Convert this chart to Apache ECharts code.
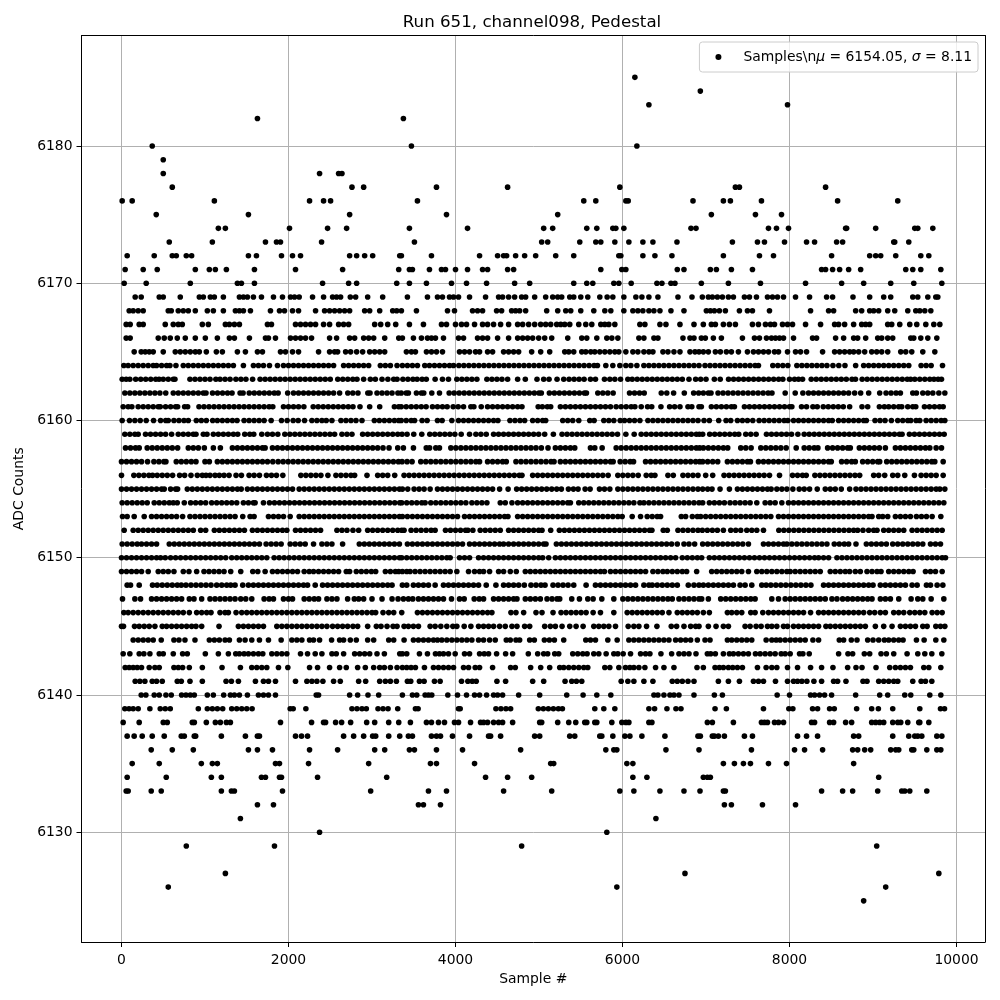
<!DOCTYPE html>
<html>
<head>
<meta charset="utf-8">
<title>Run 651, channel098, Pedestal</title>
<script src="https://cdn.jsdelivr.net/npm/echarts@6/dist/echarts.min.js"></script>
<style>
  html, body { margin: 0; background: #fff; }
  #chart { width: 1000px; height: 1000px; }
</style>
</head>
<body>
<div id="chart"></div>
<script>
/* sample numbers, one array per ADC level */
const level6185 = [6148];
const level6184 = [6932];
const level6183 = [6316, 7976];
const level6182 = [1628, 3376];
const level6180 = [368, 3472, 6172];
const level6179 = [500];
const level6178 = [500, 2372, 2600, 2640];
const level6177 = [608, 2760, 2900, 3772, 4624, 5968, 7352, 7400, 8432];
const level6176 = [8, 128, 1112, 2252, 2420, 2504, 3544, 5536, 5680, 6040, 6068, 6844, 7208, 7292, 7664, 8576, 9296];
const level6175 = [416, 1520, 2732, 3892, 5224, 7064, 7592, 7904];
const level6174 = [1160, 1244, 2012, 2468, 2696, 3448, 4144, 5056, 5164, 5572, 5692, 5884, 5920, 6016, 6820, 6880, 7748, 7844, 7988, 8672, 8684, 9032, 9500, 9536, 9716];
const level6173 = [572, 1088, 1724, 1856, 1904, 2396, 3508, 5032, 5104, 5488, 5680, 5740, 5908, 6076, 6244, 6364, 6652, 7316, 7616, 7700, 7940, 8204, 8300, 8564, 8636, 9248, 9260, 9428];
const level6172 = [68, 392, 608, 656, 776, 840, 1520, 1616, 1916, 2048, 2144, 2732, 2816, 2912, 3008, 3332, 3352, 3712, 4288, 4504, 4576, 4612, 4720, 4828, 4960, 5200, 5416, 5956, 5980, 6244, 6388, 6592, 7208, 7640, 7808, 8504, 8960, 9032, 9092, 9272, 9572, 9668];
const level6171 = [44, 260, 428, 884, 1052, 1124, 1256, 1592, 2084, 2648, 3320, 3448, 3484, 3688, 3832, 3880, 4000, 4144, 4324, 4384, 4624, 4696, 5740, 5992, 6040, 6656, 6736, 7052, 7124, 7304, 7556, 8384, 8432, 8516, 8600, 8708, 8852, 9392, 9476, 9572, 9812];
const level6170 = [32, 296, 824, 1388, 1436, 1592, 2408, 2720, 2816, 3296, 3448, 3652, 3952, 4132, 4372, 4708, 4888, 5416, 5572, 5644, 5896, 5956, 6104, 6412, 6472, 6580, 6628, 6944, 7268, 7652, 8192, 8624, 8888, 9212, 9488, 9824];
const level6169 = [164, 236, 452, 500, 704, 932, 980, 1064, 1112, 1220, 1412, 1460, 1508, 1580, 1676, 1820, 1928, 2024, 2072, 2128, 2288, 2420, 2528, 2576, 2624, 2740, 2804, 2948, 3128, 3424, 3664, 3784, 3844, 3928, 3976, 4036, 4168, 4360, 4516, 4564, 4636, 4708, 4792, 4840, 4948, 5080, 5164, 5224, 5272, 5368, 5416, 5500, 5584, 5728, 5816, 5884, 6016, 6160, 6232, 6316, 6424, 6664, 6832, 6956, 7028, 7076, 7136, 7196, 7268, 7328, 7460, 7520, 7604, 7736, 7796, 7856, 7928, 8072, 8240, 8444, 8516, 8760, 8960, 9128, 9212, 9476, 9536, 9656, 9752, 9776];
const level6168 = [92, 140, 200, 260, 560, 596, 680, 740, 800, 884, 1028, 1100, 1220, 1364, 1412, 1460, 1544, 1784, 1892, 1952, 2048, 2120, 2324, 2432, 2492, 2552, 2612, 2672, 2732, 2912, 2972, 3092, 3248, 3296, 3352, 3532, 3904, 3988, 4204, 4264, 4324, 4492, 4552, 4672, 4720, 4768, 4840, 5092, 5224, 5320, 5380, 5500, 5656, 5788, 5860, 6016, 6124, 6184, 6244, 6316, 6376, 6448, 6580, 6736, 7004, 7052, 7100, 7160, 7232, 7400, 7496, 7556, 7760, 8252, 8468, 8528, 8792, 8864, 8960, 9008, 9068, 9176, 9260, 9416, 9512, 9560, 9620, 9692];
const level6167 = [56, 104, 212, 260, 524, 620, 680, 728, 968, 1040, 1244, 1292, 1352, 1412, 1748, 1796, 2084, 2144, 2204, 2264, 2324, 2420, 2492, 2600, 2660, 2720, 3032, 3104, 3188, 3284, 3448, 3616, 3832, 3892, 4000, 4072, 4132, 4228, 4324, 4384, 4456, 4540, 4636, 4744, 4804, 4876, 4948, 5020, 5080, 5140, 5212, 5260, 5308, 5368, 5476, 5560, 5632, 5740, 5788, 5836, 5908, 6208, 6268, 6448, 6520, 6688, 6856, 6968, 7064, 7112, 7208, 7280, 7352, 7556, 7628, 7712, 7772, 7820, 7916, 7976, 8036, 8192, 8372, 8540, 8588, 8660, 8768, 8864, 8912, 8960, 9176, 9224, 9320, 9440, 9524, 9632, 9728, 9800];
const level6166 = [56, 104, 440, 512, 584, 668, 764, 884, 1004, 1148, 1292, 1352, 1532, 1724, 1760, 1844, 2024, 2084, 2144, 2204, 2276, 2492, 2576, 2732, 2792, 2900, 2960, 3020, 3152, 3320, 3364, 3496, 3592, 3664, 3712, 3760, 3856, 4036, 4096, 4264, 4324, 4384, 4504, 4636, 4744, 4804, 4864, 4924, 4996, 5068, 5152, 5344, 5512, 5572, 5692, 5812, 5872, 5944, 6196, 6256, 6376, 6424, 6724, 6808, 6856, 6944, 6992, 7088, 7184, 7436, 7580, 7640, 7724, 7784, 7832, 7880, 7928, 8048, 8276, 8324, 8552, 8648, 8768, 8816, 8912, 9056, 9104, 9176, 9236, 9452, 9488, 9572, 9656, 9764];
const level6165 = [152, 236, 284, 332, 380, 500, 644, 704, 764, 824, 884, 932, 1016, 1136, 1208, 1388, 1484, 1628, 1688, 1904, 1964, 2048, 2120, 2360, 2492, 2552, 2588, 2684, 2744, 2816, 2888, 2972, 3032, 3092, 3152, 3412, 3472, 3520, 3652, 3712, 3772, 3844, 4048, 4108, 4168, 4240, 4288, 4384, 4444, 4576, 4636, 4696, 4756, 4912, 5020, 5128, 5308, 5356, 5416, 5512, 5560, 5620, 5668, 5728, 5788, 5848, 5908, 5956, 6040, 6124, 6184, 6256, 6316, 6364, 6484, 6544, 6616, 6688, 6808, 6868, 6916, 6968, 7028, 7112, 7172, 7244, 7304, 7388, 7496, 7568, 7628, 7688, 7748, 7820, 7868, 7976, 8072, 8132, 8204, 8396, 8540, 8600, 8660, 8720, 8768, 8828, 8900, 8984, 9044, 9104, 9176, 9332, 9392, 9464, 9596, 9740];
const level6164 = [28, 80, 140, 200, 260, 320, 380, 420, 480, 540, 580, 652, 740, 800, 860, 920, 980, 1040, 1100, 1160, 1220, 1280, 1340, 1460, 1580, 1640, 1700, 1772, 1868, 1940, 2000, 2060, 2120, 2180, 2240, 2300, 2360, 2420, 2480, 2540, 2660, 2720, 2780, 2840, 2900, 2960, 3100, 3160, 3220, 3300, 3364, 3424, 3484, 3544, 3632, 3688, 3748, 3808, 3868, 3928, 3976, 4040, 4100, 4160, 4220, 4280, 4340, 4400, 4460, 4520, 4580, 4640, 4700, 4760, 4820, 4880, 4940, 5000, 5060, 5120, 5180, 5240, 5300, 5360, 5420, 5480, 5540, 5600, 5660, 5700, 5800, 5884, 5968, 6040, 6100, 6172, 6256, 6316, 6376, 6436, 6496, 6556, 6616, 6676, 6736, 6796, 6856, 6916, 6988, 7048, 7108, 7168, 7228, 7288, 7348, 7408, 7468, 7528, 7588, 7628, 7800, 7860, 7920, 7980, 8088, 8148, 8208, 8268, 8328, 8388, 8448, 8520, 8590, 8664, 8792, 8888, 8948, 9008, 9068, 9128, 9188, 9248, 9308, 9368, 9428, 9576, 9636, 9696, 9832];
const level6163 = [8, 56, 100, 170, 230, 290, 350, 410, 450, 500, 560, 620, 640, 820, 880, 940, 1000, 1060, 1130, 1180, 1240, 1300, 1370, 1430, 1490, 1570, 1660, 1720, 1780, 1840, 1900, 1960, 2020, 2080, 2140, 2200, 2260, 2320, 2380, 2440, 2500, 2590, 2650, 2710, 2770, 2820, 2900, 2980, 3040, 3120, 3190, 3260, 3300, 3370, 3430, 3490, 3540, 3600, 3650, 3756, 3844, 3916, 4016, 4076, 4136, 4196, 4256, 4376, 4436, 4496, 4556, 4624, 4744, 4836, 4976, 5056, 5120, 5216, 5296, 5360, 5420, 5480, 5540, 5616, 5676, 5784, 5848, 5908, 5976, 6064, 6116, 6176, 6236, 6296, 6356, 6416, 6476, 6536, 6596, 6656, 6716, 6796, 6876, 6936, 7000, 7100, 7170, 7270, 7330, 7390, 7450, 7510, 7570, 7630, 7690, 7750, 7810, 7870, 7920, 8000, 8060, 8108, 8156, 8260, 8320, 8380, 8440, 8500, 8560, 8620, 8680, 8748, 8790, 8870, 8930, 8990, 9050, 9110, 9170, 9230, 9290, 9350, 9410, 9450, 9500, 9560, 9620, 9680, 9730, 9780, 9820];
const level6162 = [40, 100, 160, 220, 280, 340, 400, 460, 530, 620, 680, 740, 800, 860, 920, 980, 1012, 1090, 1150, 1210, 1270, 1324, 1420, 1456, 1530, 1590, 1650, 1710, 1770, 1830, 1876, 1990, 2060, 2120, 2180, 2240, 2300, 2360, 2420, 2480, 2540, 2612, 2710, 2770, 2832, 2950, 2976, 3060, 3120, 3180, 3240, 3310, 3350, 3410, 3436, 3532, 3592, 3620, 3716, 3808, 3924, 3984, 4044, 4104, 4164, 4224, 4284, 4344, 4404, 4464, 4524, 4584, 4644, 4704, 4764, 4824, 4884, 4944, 5000, 5028, 5124, 5184, 5244, 5304, 5364, 5424, 5484, 5544, 5568, 5704, 5764, 5824, 5888, 6084, 6144, 6204, 6260, 6464, 6530, 6612, 6740, 6852, 6912, 6968, 7028, 7060, 7144, 7204, 7264, 7324, 7384, 7444, 7504, 7564, 7624, 7684, 7744, 7790, 7948, 8068, 8160, 8228, 8288, 8348, 8408, 8468, 8528, 8588, 8648, 8708, 8780, 8852, 8948, 9080, 9156, 9216, 9276, 9328, 9476, 9520, 9596, 9656, 9716, 9788, 9860];
const level6161 = [20, 80, 124, 200, 260, 320, 380, 440, 464, 528, 588, 648, 672, 756, 792, 928, 988, 1048, 1108, 1168, 1228, 1288, 1348, 1408, 1468, 1528, 1588, 1648, 1708, 1768, 1812, 1940, 2000, 2060, 2120, 2184, 2296, 2356, 2416, 2476, 2536, 2596, 2656, 2716, 2772, 2856, 2972, 3092, 3268, 3320, 3350, 3410, 3470, 3530, 3590, 3648, 3724, 3784, 3844, 3900, 3972, 4032, 4096, 4184, 4220, 4308, 4384, 4444, 4504, 4564, 4624, 4684, 4744, 4796, 4990, 5040, 5100, 5140, 5256, 5316, 5376, 5436, 5496, 5556, 5616, 5676, 5736, 5796, 5856, 5924, 5984, 6044, 6104, 6148, 6224, 6300, 6350, 6460, 6564, 6624, 6688, 6784, 6830, 6916, 6944, 7064, 7124, 7184, 7244, 7304, 7340, 7460, 7520, 7580, 7640, 7700, 7760, 7820, 7880, 7940, 8000, 8028, 8144, 8204, 8280, 8332, 8404, 8464, 8524, 8584, 8644, 8720, 8868, 8936, 9076, 9136, 9188, 9248, 9308, 9344, 9416, 9476, 9512, 9616, 9676, 9736, 9796, 9840];
const level6160 = [8, 96, 160, 224, 296, 384, 468, 530, 560, 628, 688, 748, 800, 896, 956, 1016, 1092, 1148, 1208, 1268, 1328, 1384, 1468, 1528, 1588, 1648, 1708, 1792, 1916, 1984, 2056, 2116, 2192, 2280, 2340, 2400, 2452, 2520, 2628, 2688, 2748, 2808, 2880, 3028, 3088, 3148, 3208, 3268, 3320, 3350, 3410, 3470, 3510, 3600, 3660, 3784, 3840, 3956, 4036, 4096, 4156, 4216, 4276, 4336, 4396, 4456, 4508, 4652, 4712, 4772, 4828, 4924, 4984, 5044, 5080, 5284, 5344, 5404, 5476, 5608, 5660, 5776, 5836, 5896, 5972, 6024, 6084, 6144, 6208, 6304, 6364, 6424, 6484, 6544, 6604, 6664, 6724, 6784, 6844, 6904, 6976, 7040, 7152, 7240, 7296, 7376, 7436, 7496, 7560, 7636, 7696, 7756, 7816, 7876, 7936, 7980, 8048, 8108, 8168, 8228, 8288, 8348, 8408, 8468, 8512, 8588, 8648, 8708, 8768, 8828, 8888, 8920, 9024, 9084, 9144, 9220, 9296, 9356, 9416, 9452, 9516, 9560, 9636, 9696, 9756, 9816, 9860];
const level6159 = [40, 100, 160, 200, 288, 348, 408, 468, 528, 600, 680, 740, 800, 860, 892, 980, 1024, 1100, 1160, 1220, 1280, 1340, 1392, 1476, 1536, 1584, 1680, 1748, 1808, 1872, 1956, 2016, 2076, 2136, 2196, 2256, 2316, 2376, 2436, 2496, 2552, 2640, 2700, 2760, 2888, 2948, 3008, 3068, 3128, 3188, 3248, 3308, 3360, 3420, 3500, 3596, 3692, 3752, 3812, 3872, 3932, 3992, 4068, 4168, 4244, 4304, 4368, 4456, 4516, 4576, 4636, 4696, 4756, 4816, 4876, 4936, 4996, 5068, 5172, 5276, 5336, 5396, 5456, 5516, 5576, 5636, 5696, 5756, 5816, 5876, 5940, 6040, 6140, 6224, 6284, 6344, 6404, 6464, 6524, 6584, 6644, 6704, 6764, 6824, 6884, 6920, 6960, 7044, 7104, 7164, 7224, 7284, 7344, 7392, 7476, 7536, 7600, 7724, 7784, 7844, 7904, 7964, 8024, 8100, 8176, 8236, 8296, 8356, 8416, 8476, 8536, 8596, 8656, 8716, 8776, 8836, 8896, 8956, 9016, 9076, 9136, 9196, 9256, 9316, 9348, 9436, 9496, 9556, 9616, 9676, 9736, 9796, 9852];
const level6158 = [48, 108, 168, 212, 308, 368, 428, 488, 548, 608, 672, 800, 860, 920, 992, 1100, 1184, 1328, 1388, 1448, 1508, 1568, 1628, 1688, 1720, 1808, 1868, 1928, 1988, 2048, 2108, 2168, 2228, 2288, 2348, 2408, 2468, 2528, 2588, 2648, 2708, 2768, 2828, 2888, 2948, 3008, 3068, 3132, 3204, 3308, 3376, 3496, 3650, 3690, 3764, 3808, 3944, 4004, 4064, 4124, 4184, 4244, 4304, 4364, 4424, 4484, 4544, 4604, 4664, 4724, 4784, 4844, 4904, 4964, 5028, 5108, 5196, 5256, 5316, 5376, 5428, 5616, 5668, 5756, 5924, 5984, 6044, 6104, 6164, 6224, 6284, 6344, 6404, 6464, 6524, 6584, 6644, 6704, 6764, 6824, 6884, 6924, 6968, 7028, 7088, 7148, 7208, 7260, 7416, 7476, 7540, 7656, 7716, 7776, 7836, 7896, 7960, 8080, 8176, 8236, 8296, 8340, 8456, 8516, 8576, 8636, 8696, 8728, 8836, 8896, 8956, 9016, 9076, 9148, 9268, 9328, 9388, 9448, 9508, 9568, 9628, 9680, 9756, 9820];
const level6157 = [0, 60, 120, 180, 240, 312, 388, 448, 508, 532, 656, 716, 776, 836, 892, 1000, 1052, 1148, 1208, 1268, 1328, 1388, 1448, 1508, 1568, 1628, 1688, 1748, 1812, 1876, 1936, 1996, 2056, 2116, 2176, 2236, 2296, 2356, 2416, 2476, 2536, 2596, 2656, 2716, 2776, 2836, 2896, 2956, 3016, 3076, 3136, 3196, 3256, 3316, 3360, 3420, 3480, 3584, 3644, 3704, 3764, 3824, 3884, 3944, 4004, 4064, 4124, 4184, 4244, 4288, 4384, 4444, 4504, 4564, 4608, 4724, 4784, 4844, 4904, 4964, 5024, 5084, 5144, 5180, 5256, 5316, 5376, 5436, 5496, 5556, 5616, 5676, 5736, 5796, 5856, 5888, 5972, 6032, 6092, 6132, 6276, 6336, 6396, 6456, 6516, 6576, 6636, 6696, 6756, 6816, 6876, 6924, 6960, 7020, 7080, 7140, 7256, 7316, 7376, 7436, 7496, 7532, 7628, 7688, 7748, 7808, 7868, 7928, 7988, 8048, 8108, 8168, 8228, 8288, 8348, 8408, 8468, 8500, 8624, 8684, 8744, 8788, 8876, 8936, 8996, 9056, 9080, 9164, 9224, 9284, 9344, 9404, 9464, 9524, 9584, 9644, 9704, 9740, 9840];
const level6156 = [0, 148, 208, 268, 328, 372, 428, 488, 548, 612, 696, 756, 832, 908, 968, 1012, 1060, 1120, 1172, 1228, 1288, 1372, 1436, 1528, 1588, 1652, 1736, 1796, 1856, 1932, 2148, 2208, 2268, 2328, 2388, 2472, 2568, 2628, 2688, 2748, 2792, 2940, 3068, 3128, 3188, 3272, 3384, 3444, 3504, 3564, 3624, 3684, 3744, 3804, 3864, 3924, 3984, 4044, 4104, 4164, 4224, 4284, 4344, 4404, 4464, 4524, 4584, 4644, 4704, 4764, 4796, 4924, 4984, 5044, 5104, 5164, 5224, 5284, 5344, 5404, 5464, 5524, 5584, 5644, 5704, 5764, 5828, 5944, 6004, 6064, 6124, 6188, 6284, 6344, 6388, 6544, 6608, 6724, 6784, 6844, 6904, 6996, 7080, 7216, 7276, 7336, 7396, 7456, 7516, 7576, 7636, 7696, 7760, 7880, 8036, 8096, 8156, 8200, 8304, 8364, 8424, 8484, 8544, 8604, 8664, 8724, 8784, 8840, 9008, 9068, 9140, 9236, 9296, 9380, 9496, 9576, 9636, 9696, 9756, 9840];
const level6155 = [0, 60, 120, 180, 240, 300, 360, 420, 480, 512, 588, 648, 672, 788, 848, 908, 968, 1028, 1088, 1148, 1208, 1268, 1328, 1388, 1434, 1508, 1568, 1628, 1688, 1748, 1808, 1868, 1928, 1988, 2048, 2128, 2188, 2248, 2308, 2368, 2428, 2488, 2548, 2608, 2668, 2728, 2788, 2848, 2908, 2968, 3028, 3088, 3148, 3208, 3268, 3328, 3364, 3428, 3504, 3564, 3624, 3696, 3784, 3844, 3904, 3964, 4024, 4084, 4144, 4204, 4264, 4324, 4384, 4444, 4528, 4630, 4732, 4792, 4852, 4912, 4972, 5032, 5092, 5152, 5212, 5268, 5352, 5412, 5468, 5552, 5612, 5724, 5784, 5848, 5944, 6004, 6064, 6124, 6184, 6244, 6304, 6364, 6424, 6484, 6544, 6604, 6664, 6724, 6784, 6844, 6904, 6960, 7020, 7072, 7168, 7280, 7376, 7436, 7496, 7556, 7616, 7676, 7736, 7780, 7848, 7908, 7968, 8040, 8116, 8176, 8240, 8332, 8428, 8488, 8548, 8620, 8720, 8796, 8856, 8916, 8976, 9036, 9096, 9156, 9216, 9276, 9336, 9396, 9456, 9516, 9576, 9636, 9696, 9756, 9800, 9860];
const level6154 = [8, 68, 128, 188, 248, 308, 392, 452, 512, 572, 620, 668, 752, 828, 888, 948, 1008, 1080, 1140, 1200, 1260, 1320, 1380, 1460, 1520, 1580, 1600, 1700, 1772, 1832, 1892, 1952, 2012, 2072, 2132, 2192, 2252, 2312, 2372, 2432, 2492, 2552, 2612, 2672, 2732, 2792, 2852, 2912, 2972, 3032, 3092, 3152, 3212, 3272, 3332, 3356, 3416, 3476, 3536, 3596, 3636, 3704, 3764, 3824, 3884, 3944, 4004, 4064, 4124, 4196, 4256, 4316, 4376, 4536, 4596, 4676, 4744, 4804, 4864, 4924, 4984, 5044, 5104, 5164, 5224, 5284, 5344, 5376, 5476, 5536, 5596, 5656, 5716, 5776, 5836, 5896, 5956, 6016, 6076, 6136, 6208, 6256, 6316, 6376, 6436, 6496, 6556, 6616, 6676, 6736, 6796, 6856, 6916, 6960, 7040, 7100, 7160, 7220, 7288, 7348, 7408, 7468, 7528, 7608, 7708, 7768, 7828, 7908, 7988, 8048, 8108, 8168, 8228, 8288, 8348, 8408, 8468, 8528, 8588, 8648, 8708, 8768, 8828, 8888, 8948, 9008, 9068, 9128, 9188, 9248, 9308, 9368, 9428, 9488, 9548, 9608, 9668, 9728, 9788, 9848];
const level6153 = [12, 68, 152, 272, 360, 420, 480, 540, 600, 660, 732, 820, 880, 940, 1000, 1060, 1120, 1180, 1240, 1300, 1360, 1452, 1540, 1588, 1760, 1820, 1880, 1940, 2020, 2128, 2188, 2248, 2308, 2368, 2428, 2488, 2548, 2608, 2668, 2728, 2788, 2848, 2908, 2968, 3028, 3088, 3148, 3208, 3268, 3328, 3364, 3424, 3484, 3544, 3604, 3664, 3724, 3784, 3844, 3904, 3964, 4024, 4108, 4168, 4228, 4288, 4348, 4408, 4468, 4528, 4588, 4628, 4744, 4804, 4864, 4924, 4984, 5044, 5104, 5164, 5224, 5284, 5344, 5404, 5464, 5524, 5584, 5644, 5704, 5764, 5824, 5884, 5944, 5996, 6116, 6216, 6296, 6356, 6416, 6456, 6704, 6756, 6836, 6896, 6936, 6996, 7056, 7116, 7176, 7236, 7296, 7356, 7416, 7476, 7536, 7596, 7656, 7716, 7776, 7868, 7928, 7988, 8048, 8108, 8168, 8228, 8288, 8348, 8408, 8468, 8528, 8588, 8648, 8708, 8768, 8828, 8888, 8948, 8988, 9068, 9116, 9176, 9268, 9328, 9388, 9448, 9520, 9580, 9640, 9708, 9812];
const level6152 = [32, 140, 200, 260, 320, 380, 440, 500, 560, 620, 680, 740, 800, 860, 948, 1008, 1112, 1172, 1232, 1292, 1352, 1412, 1472, 1568, 1628, 1688, 1748, 1808, 1868, 1928, 1980, 2084, 2144, 2204, 2264, 2324, 2384, 2580, 2640, 2700, 2772, 2840, 2948, 3008, 3068, 3128, 3188, 3248, 3308, 3356, 3384, 3468, 3528, 3588, 3648, 3708, 3756, 3880, 3940, 4000, 4060, 4120, 4148, 4208, 4296, 4356, 4416, 4476, 4536, 4636, 4696, 4756, 4816, 4876, 4936, 4996, 5036, 5140, 5244, 5304, 5364, 5424, 5484, 5544, 5604, 5664, 5724, 5784, 5844, 5904, 5964, 6024, 6084, 6144, 6204, 6264, 6324, 6352, 6488, 6536, 6664, 6724, 6784, 6844, 6904, 6956, 7016, 7076, 7136, 7208, 7296, 7356, 7416, 7488, 7548, 7608, 7688, 7872, 7932, 7992, 8052, 8112, 8172, 8232, 8292, 8352, 8412, 8472, 8532, 8592, 8652, 8712, 8768, 8816, 8880, 8948, 9008, 9048, 9128, 9188, 9248, 9308, 9368, 9468, 9528, 9588, 9648, 9708, 9768, 9828];
const level6151 = [8, 68, 128, 188, 240, 300, 360, 420, 572, 632, 692, 752, 812, 872, 932, 992, 1052, 1112, 1172, 1232, 1292, 1352, 1412, 1472, 1532, 1592, 1652, 1732, 1792, 1852, 1912, 2020, 2080, 2140, 2200, 2300, 2400, 2460, 2520, 2648, 2848, 2908, 2968, 3028, 3088, 3148, 3208, 3268, 3328, 3424, 3484, 3544, 3604, 3664, 3724, 3784, 3844, 3904, 3964, 4024, 4084, 4168, 4228, 4288, 4348, 4408, 4468, 4528, 4576, 4636, 4696, 4756, 4816, 4876, 4936, 4996, 5056, 5084, 5208, 5268, 5328, 5388, 5448, 5508, 5568, 5628, 5688, 5748, 5808, 5868, 5928, 5988, 6048, 6108, 6168, 6228, 6288, 6348, 6408, 6468, 6528, 6588, 6656, 6736, 6796, 6864, 6960, 7020, 7080, 7140, 7200, 7260, 7320, 7380, 7440, 7508, 7688, 7748, 7808, 7868, 7928, 7968, 8028, 8088, 8148, 8208, 8268, 8328, 8388, 8448, 8536, 8596, 8656, 8708, 8796, 8920, 8980, 9040, 9100, 9160, 9236, 9296, 9356, 9416, 9476, 9536, 9596, 9688, 9748, 9808];
const level6150 = [0, 60, 120, 180, 240, 300, 360, 420, 468, 524, 588, 648, 708, 768, 828, 888, 948, 1008, 1068, 1128, 1188, 1248, 1320, 1380, 1440, 1500, 1560, 1620, 1680, 1740, 1828, 1888, 1948, 2008, 2068, 2128, 2188, 2248, 2308, 2368, 2428, 2488, 2548, 2608, 2668, 2728, 2788, 2848, 2908, 2968, 3028, 3088, 3148, 3208, 3268, 3328, 3356, 3416, 3476, 3536, 3596, 3656, 3716, 3776, 3836, 3896, 3936, 4048, 4108, 4168, 4276, 4336, 4396, 4456, 4516, 4576, 4636, 4696, 4756, 4816, 4876, 4936, 4996, 5044, 5116, 5196, 5256, 5316, 5376, 5436, 5496, 5556, 5616, 5676, 5736, 5796, 5856, 5916, 5976, 6036, 6096, 6156, 6216, 6276, 6336, 6396, 6456, 6516, 6576, 6636, 6716, 6776, 6836, 6896, 6948, 7040, 7100, 7160, 7220, 7280, 7340, 7400, 7460, 7520, 7580, 7640, 7700, 7760, 7820, 7880, 7940, 8000, 8060, 8120, 8180, 8240, 8300, 8348, 8408, 8468, 8568, 8628, 8688, 8748, 8808, 8868, 8928, 8988, 9048, 9108, 9168, 9228, 9288, 9348, 9408, 9468, 9528, 9588, 9648, 9708, 9768, 9828, 9868];
const level6149 = [0, 60, 120, 180, 240, 320, 440, 500, 560, 628, 740, 808, 900, 988, 1048, 1108, 1168, 1228, 1308, 1428, 1572, 1632, 1720, 1808, 1868, 1928, 1988, 2048, 2108, 2188, 2248, 2300, 2360, 2420, 2480, 2540, 2600, 2692, 2732, 2812, 2872, 2932, 2992, 3044, 3160, 3220, 3280, 3320, 3364, 3416, 3456, 3516, 3576, 3636, 3696, 3756, 3816, 3876, 3936, 4016, 4156, 4228, 4288, 4336, 4408, 4516, 4576, 4656, 4728, 4836, 4896, 4956, 5016, 5076, 5136, 5196, 5256, 5316, 5376, 5436, 5496, 5556, 5616, 5676, 5736, 5784, 5856, 5916, 5976, 6036, 6096, 6156, 6216, 6276, 6364, 6424, 6484, 6536, 6596, 6656, 6716, 6768, 6888, 7068, 7128, 7188, 7248, 7308, 7368, 7428, 7508, 7608, 7668, 7728, 7788, 7848, 7908, 7968, 8008, 8068, 8128, 8188, 8248, 8308, 8368, 8488, 8548, 8608, 8668, 8720, 8788, 8848, 8928, 8988, 9048, 9096, 9188, 9248, 9308, 9368, 9428, 9480, 9628, 9688, 9748, 9828];
const level6148 = [68, 108, 212, 372, 428, 488, 548, 608, 668, 716, 772, 832, 892, 952, 1012, 1072, 1140, 1200, 1260, 1308, 1360, 1452, 1520, 1580, 1640, 1700, 1760, 1820, 1880, 1940, 2000, 2060, 2120, 2180, 2228, 2320, 2408, 2468, 2528, 2588, 2648, 2708, 2768, 2828, 2888, 2948, 3008, 3068, 3128, 3188, 3240, 3364, 3416, 3496, 3556, 3616, 3676, 3756, 3856, 3916, 3976, 4036, 4096, 4156, 4216, 4276, 4368, 4484, 4576, 4636, 4696, 4756, 4824, 4904, 4964, 5024, 5072, 5168, 5228, 5288, 5348, 5416, 5564, 5676, 5736, 5796, 5856, 5916, 5976, 6036, 6096, 6156, 6256, 6316, 6356, 6416, 6476, 6536, 6596, 6656, 6788, 6856, 6916, 6968, 7028, 7088, 7148, 7208, 7268, 7328, 7408, 7468, 7548, 7668, 7720, 7776, 7836, 7896, 7956, 8016, 8076, 8136, 8196, 8256, 8408, 8468, 8528, 8588, 8648, 8708, 8768, 8828, 8888, 8948, 9000, 9088, 9148, 9208, 9268, 9328, 9388, 9468, 9528, 9640, 9688, 9768, 9836];
const level6147 = [12, 160, 228, 360, 420, 480, 540, 600, 660, 720, 812, 868, 960, 1060, 1120, 1180, 1240, 1300, 1360, 1428, 1488, 1560, 1708, 1768, 1820, 1940, 2000, 2048, 2188, 2248, 2308, 2360, 2460, 2520, 2580, 2708, 2788, 2840, 2900, 3000, 3120, 3240, 3312, 3376, 3436, 3488, 3556, 3616, 3676, 3736, 3796, 3856, 3952, 4048, 4104, 4224, 4284, 4336, 4456, 4516, 4576, 4636, 4696, 4736, 4836, 4896, 4956, 5016, 5096, 5156, 5216, 5248, 5392, 5484, 5584, 5648, 5752, 5896, 6004, 6064, 6124, 6184, 6244, 6304, 6364, 6424, 6484, 6544, 6596, 6676, 6736, 6796, 6856, 6916, 6948, 7028, 7176, 7236, 7296, 7356, 7416, 7476, 7536, 7588, 7788, 7868, 7948, 8008, 8068, 8128, 8188, 8248, 8308, 8368, 8428, 8508, 8568, 8636, 8696, 8756, 8816, 8876, 8936, 8988, 9088, 9148, 9208, 9308, 9456, 9536, 9596, 9696, 9848];
const level6146 = [28, 80, 140, 200, 260, 320, 380, 440, 500, 560, 620, 680, 740, 812, 900, 960, 1020, 1072, 1180, 1240, 1280, 1372, 1440, 1500, 1560, 1620, 1680, 1740, 1800, 1860, 1920, 1980, 2040, 2100, 2160, 2220, 2280, 2340, 2400, 2460, 2520, 2580, 2640, 2700, 2760, 2820, 2880, 2940, 3000, 3044, 3132, 3200, 3260, 3356, 3544, 3604, 3664, 3724, 3784, 3844, 3904, 3964, 4024, 4084, 4144, 4204, 4264, 4324, 4384, 4436, 4664, 4724, 4816, 4964, 5036, 5168, 5264, 5324, 5384, 5444, 5504, 5564, 5648, 5736, 5896, 6056, 6116, 6176, 6236, 6296, 6356, 6416, 6476, 6556, 6656, 6716, 6776, 6836, 6896, 6968, 7040, 7256, 7308, 7368, 7428, 7536, 7588, 7680, 7748, 7808, 7868, 7928, 7988, 8048, 8108, 8168, 8252, 8348, 8408, 8468, 8528, 8588, 8648, 8708, 8768, 8828, 8888, 8960, 9020, 9088, 9148, 9248, 9308, 9368, 9440, 9500, 9560, 9620, 9708, 9768, 9828];
const level6145 = [0, 24, 156, 212, 272, 332, 400, 488, 540, 600, 660, 720, 780, 840, 892, 960, 1168, 1400, 1460, 1520, 1580, 1640, 1700, 1860, 1920, 1980, 2040, 2100, 2160, 2220, 2280, 2340, 2400, 2460, 2528, 2588, 2648, 2708, 2772, 2828, 2948, 3052, 3108, 3180, 3252, 3300, 3384, 3436, 3496, 3556, 3696, 3756, 3824, 3896, 3968, 4016, 4104, 4184, 4276, 4336, 4396, 4456, 4528, 4596, 4676, 4736, 4828, 4888, 5068, 5136, 5196, 5276, 5368, 5444, 5528, 5656, 5716, 5776, 5836, 5916, 6068, 6136, 6196, 6288, 6412, 6584, 6648, 6736, 6816, 6876, 6916, 7028, 7120, 7208, 7268, 7468, 7528, 7600, 7660, 7736, 7788, 7848, 7928, 7976, 8048, 8108, 8168, 8228, 8288, 8348, 8436, 8488, 8548, 8608, 8668, 8728, 8788, 8848, 8908, 9028, 9128, 9228, 9328, 9388, 9448, 9508, 9596, 9648, 9752, 9808, 9860];
const level6144 = [140, 200, 260, 320, 380, 476, 628, 688, 760, 880, 1052, 1112, 1172, 1240, 1292, 1412, 1480, 1560, 1652, 1760, 1912, 2040, 2100, 2160, 2252, 2300, 2372, 2516, 2612, 2660, 2740, 2812, 2948, 3020, 3200, 3260, 3384, 3496, 3556, 3616, 3676, 3736, 3784, 3836, 3896, 3956, 4016, 4076, 4136, 4196, 4276, 4336, 4408, 4476, 4608, 4656, 4724, 4768, 4888, 4944, 5064, 5124, 5184, 5296, 5560, 5616, 5676, 5824, 5936, 6076, 6136, 6196, 6256, 6316, 6376, 6436, 6496, 6556, 6636, 6696, 6756, 6816, 6896, 6988, 7048, 7256, 7308, 7368, 7428, 7488, 7548, 7720, 7788, 7840, 7888, 7948, 8008, 8068, 8128, 8188, 8280, 8348, 8596, 8648, 8740, 8808, 8936, 9000, 9068, 9136, 9188, 9248, 9308, 9360, 9520, 9612, 9752, 9848];
const level6143 = [20, 100, 212, 268, 340, 452, 500, 620, 732, 788, 1004, 1160, 1280, 1368, 1412, 1468, 1520, 1580, 1640, 1692, 1800, 1860, 1920, 1980, 2144, 2228, 2320, 2400, 2520, 2572, 2660, 2792, 2852, 2912, 2972, 3060, 3148, 3332, 3364, 3416, 3568, 3664, 3760, 3808, 3856, 3916, 3996, 4108, 4168, 4288, 4344, 4396, 4492, 4600, 4684, 4872, 4984, 5056, 5104, 5188, 5236, 5404, 5464, 5524, 5576, 5656, 5716, 5804, 5896, 5944, 6008, 6096, 6216, 6276, 6328, 6460, 6588, 6676, 6736, 6796, 6880, 7016, 7056, 7112, 7208, 7280, 7328, 7388, 7448, 7508, 7592, 7648, 7708, 7768, 7828, 7900, 7948, 8008, 8120, 8160, 8236, 8588, 8700, 8756, 8896, 8960, 9096, 9160, 9248, 9408, 9536, 9620, 9704, 9824];
const level6142 = [44, 92, 140, 188, 240, 332, 400, 452, 628, 680, 732, 812, 968, 1204, 1424, 1560, 1620, 1680, 1740, 1880, 1992, 2252, 2348, 2492, 2612, 2692, 2828, 2920, 3020, 3092, 3148, 3220, 3300, 3364, 3416, 3468, 3520, 3628, 3736, 3796, 3856, 3916, 3976, 4096, 4156, 4236, 4288, 4444, 4660, 4716, 4900, 5020, 5128, 5248, 5296, 5356, 5416, 5476, 5536, 5584, 5788, 5848, 5956, 6036, 6088, 6136, 6196, 6268, 6396, 6496, 6616, 6892, 6968, 7108, 7160, 7208, 7268, 7320, 7376, 7436, 7616, 7720, 7788, 7848, 7976, 8096, 8252, 8384, 8520, 8696, 8796, 8868, 9036, 9200, 9268, 9328, 9388, 9448, 9608, 9668, 9812];
const level6141 = [164, 220, 280, 368, 420, 488, 668, 716, 820, 968, 1252, 1316, 1400, 1604, 1700, 1760, 1844, 2084, 2220, 2280, 2340, 2412, 2540, 2620, 2840, 2924, 3092, 3160, 3220, 3292, 3424, 3464, 3568, 3624, 3748, 3816, 4072, 4148, 4200, 4248, 4496, 4600, 4924, 5056, 5312, 5392, 5448, 5512, 5984, 6064, 6136, 6256, 6364, 6596, 6656, 6716, 6784, 6856, 7148, 7268, 7400, 7568, 7628, 7688, 7832, 7976, 8048, 8096, 8148, 8208, 8292, 8384, 8528, 8576, 8676, 8880, 8928, 9068, 9128, 9188, 9248, 9296, 9476, 9576, 9628, 9704];
const level6140 = [236, 292, 392, 452, 532, 596, 720, 772, 824, 872, 1028, 1100, 1224, 1304, 1352, 1412, 1508, 1640, 1700, 1760, 1844, 2332, 2360, 2732, 2828, 2952, 3080, 3364, 3484, 3536, 3636, 3676, 3716, 3908, 4024, 4132, 4228, 4288, 4372, 4456, 4504, 4564, 4756, 5008, 5332, 5528, 5692, 5860, 6376, 6424, 6496, 6568, 6616, 6676, 6856, 7100, 7196, 7852, 8000, 8252, 8300, 8360, 8420, 8504, 8792, 9080, 9176, 9380, 9452, 9680, 9812];
const level6139 = [40, 90, 140, 200, 340, 464, 524, 584, 920, 1028, 1088, 1148, 1212, 1320, 1380, 1440, 1500, 1564, 2020, 2056, 2208, 2760, 2820, 2880, 2932, 3072, 3132, 3192, 3308, 3520, 3552, 4036, 4056, 4484, 4544, 4604, 4660, 4992, 5052, 5112, 5172, 5232, 5280, 5668, 5776, 5908, 6316, 6384, 6532, 6640, 6700, 7108, 7244, 7688, 7992, 8040, 8276, 8336, 8480, 8536, 8804, 8984, 9064, 9236, 9560, 9808, 9856];
const level6138 = [20, 212, 500, 548, 848, 872, 1016, 1124, 1184, 1256, 1304, 1904, 2276, 2420, 2444, 2564, 2636, 2744, 2936, 3032, 3200, 3320, 3460, 3652, 3712, 3796, 3868, 3988, 4036, 4180, 4300, 4336, 4384, 4456, 4516, 4564, 4684, 5008, 5032, 5224, 5356, 5440, 5548, 5572, 5668, 5692, 5872, 5992, 6040, 6076, 6316, 6352, 7016, 7076, 7328, 7664, 7700, 7736, 7820, 7868, 7928, 8264, 8300, 8480, 8528, 8672, 8744, 8984, 9032, 9080, 9128, 9236, 9296, 9332, 9416, 9548, 9560, 9668];
const level6137 = [68, 152, 248, 368, 512, 716, 752, 872, 888, 1196, 1484, 1628, 1652, 2084, 2156, 2228, 2660, 2780, 2900, 3008, 3044, 3200, 3332, 3436, 3484, 3712, 3772, 3820, 3964, 4168, 4396, 4420, 4540, 4948, 5008, 5368, 5428, 5728, 5752, 5884, 6028, 6088, 6232, 6508, 6904, 6932, 7076, 7100, 7148, 7220, 7460, 7556, 8096, 8204, 8336, 8768, 8828, 9236, 9428, 9500, 9536, 9584, 9764, 9824];
const level6136 = [356, 608, 860, 1520, 1628, 1808, 2252, 2588, 3032, 3152, 3448, 3508, 3772, 4084, 4780, 5800, 5896, 5932, 6520, 6916, 7544, 8060, 8180, 8396, 8756, 8816, 8900, 8972, 9212, 9272, 9308, 9464, 9488, 9644, 9764, 9812];
const level6135 = [128, 452, 956, 1088, 1148, 1844, 1892, 2240, 2960, 3700, 3772, 4228, 5140, 5176, 6052, 6124, 7208, 7340, 7448, 7532, 7748, 7964, 8768];
const level6134 = [68, 536, 1076, 1196, 1676, 1724, 1892, 1916, 2348, 3176, 4360, 4624, 4912, 6124, 6292, 6968, 7016, 7052, 9068];
const level6133 = [56, 80, 356, 476, 1196, 1316, 1352, 1928, 2984, 3676, 3892, 4576, 5152, 5968, 6136, 6448, 6736, 6928, 7208, 7232, 8384, 8636, 8756, 9056, 9344, 9380, 9440, 9644];
const level6132 = [1628, 1820, 3556, 3616, 3820, 7220, 7304, 7676, 8072];
const level6131 = [1424, 6400];
const level6130 = [2372, 5812];
const level6129 = [776, 1832, 4792, 9044];
const level6127 = [1244, 6748, 9788];
const level6126 = [560, 5932, 9152];
const level6125 = [8888];

const levelValues = [6125, 6126, 6127, 6129, 6130, 6131, 6132, 6133, 6134, 6135, 6136, 6137, 6138, 6139, 6140, 6141, 6142, 6143, 6144, 6145, 6146, 6147, 6148, 6149, 6150, 6151, 6152, 6153, 6154, 6155, 6156, 6157, 6158, 6159, 6160, 6161, 6162, 6163, 6164, 6165, 6166, 6167, 6168, 6169, 6170, 6171, 6172, 6173, 6174, 6175, 6176, 6177, 6178, 6179, 6180, 6182, 6183, 6184, 6185];
const levelSamples = [level6125, level6126, level6127, level6129, level6130, level6131, level6132, level6133, level6134, level6135, level6136, level6137, level6138, level6139, level6140, level6141, level6142, level6143, level6144, level6145, level6146, level6147, level6148, level6149, level6150, level6151, level6152, level6153, level6154, level6155, level6156, level6157, level6158, level6159, level6160, level6161, level6162, level6163, level6164, level6165, level6166, level6167, level6168, level6169, level6170, level6171, level6172, level6173, level6174, level6175, level6176, level6177, level6178, level6179, level6180, level6182, level6183, level6184, level6185];

const xTicks = [0, 2000, 4000, 6000, 8000, 10000];
const yTicks = [6130, 6140, 6150, 6160, 6170, 6180];

const fontFamily = '"DejaVu Sans", sans-serif';
const xRange = { min: -479, max: 10341 };
const yRange = { min: 6122, max: 6188.05 };
const points = [];
levelValues.forEach((level, i) => {
  levelSamples[i].forEach(sample => points.push([sample, level]));
});

const frameLine = { show: true, onZero: false, lineStyle: { color: '#000', width: 1 } };
const tickStyle = { show: true, length: 5, lineStyle: { color: '#000', width: 1 } };
const gridStyle = { show: true, lineStyle: { color: '#b0b0b0', width: 1 } };
const labelStyle = { fontFamily, fontSize: 13.9, color: '#000', formatter: value => String(value) };
const nameStyle = { fontFamily, fontSize: 13.9, color: '#000' };
// top and right sides of the frame
const frameAxis = {
  type: 'value',
  axisLine: frameLine,
  axisTick: { show: false },
  axisLabel: { show: false },
  splitLine: { show: false }
};

const chart = echarts.init(document.getElementById('chart'), null, { renderer: 'canvas' });
chart.setOption({
  animation: false,
  backgroundColor: '#fff',
  title: {
    text: 'Run 651, channel098, Pedestal',
    left: 527,
    top: 9,
    textAlign: 'center',
    textStyle: { fontFamily, fontSize: 16.67, fontWeight: 'normal', color: '#000' }
  },
  legend: {
    right: 22,
    top: 42,
    padding: [8, 6, 8, 16],
    itemWidth: 28,
    itemHeight: 6,
    backgroundColor: 'rgba(255,255,255,0.8)',
    borderColor: '#ccc',
    borderWidth: 1,
    borderRadius: 3,
    formatter: 'Samples\\n{i|\u03bc} = 6154.05, {i|\u03c3} = 8.11',
    textStyle: {
      fontFamily, fontSize: 13.9, color: '#000', padding: [0, 0, 0, 6],
      rich: { i: { fontFamily, fontSize: 13.9, fontStyle: 'italic', color: '#000' } }
    }
  },
  grid: { left: 81.5, top: 35.5, width: 903.5, height: 906.5, containLabel: false },
  xAxis: [
    {
      type: 'value',
      ...xRange,
      name: 'Sample #',
      nameLocation: 'middle',
      nameGap: 29,
      nameTextStyle: nameStyle,
      axisLine: frameLine,
      axisTick: { ...tickStyle, customValues: xTicks },
      axisLabel: { ...labelStyle, customValues: xTicks, margin: 11 },
      splitLine: gridStyle
    },
    { ...frameAxis, ...xRange, position: 'top' }
  ],
  yAxis: [
    {
      type: 'value',
      ...yRange,
      name: 'ADC Counts',
      nameLocation: 'middle',
      nameGap: 45,
      nameTextStyle: nameStyle,
      axisLine: frameLine,
      axisTick: { ...tickStyle, customValues: yTicks },
      axisLabel: { ...labelStyle, customValues: yTicks, margin: 9 },
      splitLine: gridStyle
    },
    { ...frameAxis, ...yRange, position: 'right' }
  ],
  series: [
    {
      name: 'Samples',
      type: 'scatter',
      data: points,
      symbol: 'circle',
      symbolSize: 5.6,
      itemStyle: { color: '#000', opacity: 1 },
      progressive: 0,
      silent: true
    }
  ]
});
</script>
</body>
</html>
